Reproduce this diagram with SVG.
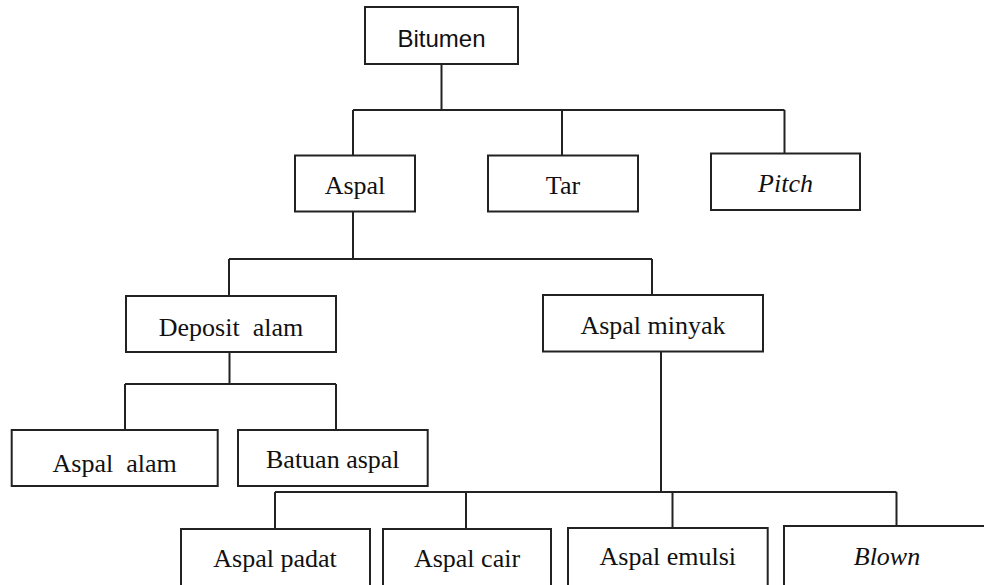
<svg xmlns="http://www.w3.org/2000/svg" width="984" height="585" viewBox="0 0 984 585">
<style>
.box{fill:#fff;stroke:#222;stroke-width:2}
.con{fill:none;stroke:#222;stroke-width:2}
.t{font-family:"Liberation Serif","Times New Roman",serif;font-size:26px;fill:#111;text-anchor:middle;white-space:pre}
.s{font-family:"Liberation Sans",Arial,sans-serif;font-size:24px;fill:#111;text-anchor:middle}
.i{font-style:italic}
</style>
<rect width="984" height="585" fill="#fff"/>
<g id="connectors" class="con">
<path d="M441.5 64V110M353 110H784.5M353 110V155.5M562 110V155.5M784.5 110V153.5"/>
<path d="M353 211.5V259M229 259H652M229 259V296M652 259V295"/>
<path d="M229.5 352V384M125 384H336M125 384V430M336 384V430"/>
<path d="M661 351.5V492M275 492H896.5M275 492V529M466 492V529M672.5 492V528M896.5 492V526"/>
</g>
<g id="bitumen"><rect class="box" x="365" y="7" width="153" height="57"/><text class="s" x="441.5" y="46.5">Bitumen</text></g>
<g id="aspal"><rect class="box" x="295" y="155.5" width="120" height="56"/><text class="t" x="355" y="194">Aspal</text></g>
<g id="tar"><rect class="box" x="488" y="155.5" width="150" height="56"/><text class="t" x="563" y="194">Tar</text></g>
<g id="pitch"><rect class="box" x="711" y="153.5" width="149" height="56.5"/><text class="t i" x="785.5" y="192">Pitch</text></g>
<g id="deposit-alam"><rect class="box" x="126" y="296" width="210" height="56"/><text class="t" x="231" y="336" xml:space="preserve">Deposit  alam</text></g>
<g id="aspal-minyak"><rect class="box" x="543" y="295" width="220" height="56.5"/><text class="t" x="653" y="334">Aspal minyak</text></g>
<g id="aspal-alam"><rect class="box" x="11.7" y="430" width="206" height="56"/><text class="t" x="114.7" y="472" xml:space="preserve">Aspal  alam</text></g>
<g id="batuan-aspal"><rect class="box" x="238" y="430" width="189.7" height="56"/><text class="t" x="332.8" y="468">Batuan aspal</text></g>
<g id="aspal-padat"><rect class="box" x="181" y="529" width="189" height="70"/><text class="t" x="275" y="567">Aspal padat</text></g>
<g id="aspal-cair"><rect class="box" x="383" y="529" width="168" height="70"/><text class="t" x="467" y="567">Aspal cair</text></g>
<g id="aspal-emulsi"><rect class="box" x="568" y="528" width="199.7" height="70"/><text class="t" x="667.8" y="565">Aspal emulsi</text></g>
<g id="blown"><rect class="box" x="784" y="526" width="210" height="70"/><text class="t i" x="887" y="565">Blown</text></g>
</svg>
